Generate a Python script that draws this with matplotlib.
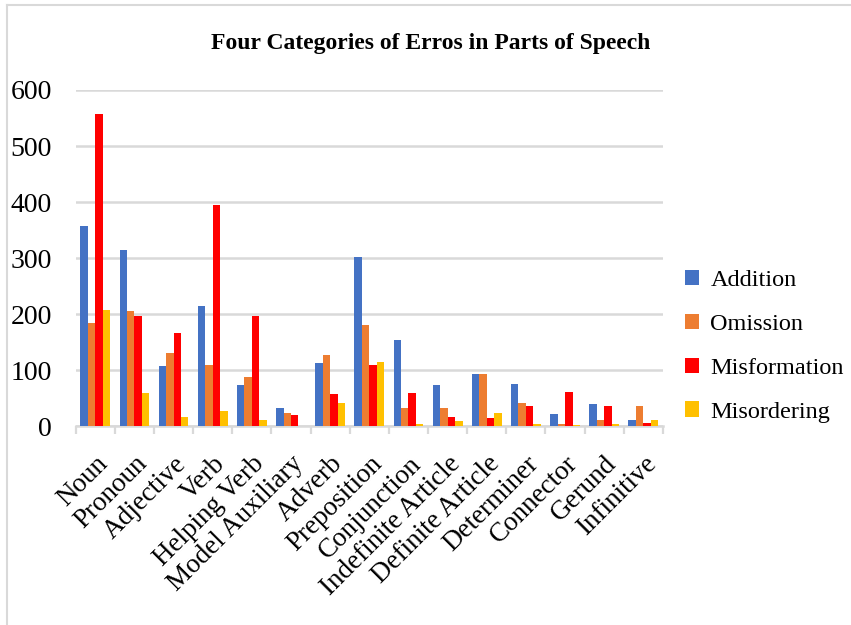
import matplotlib.pyplot as plt
import numpy as np
from matplotlib.lines import Line2D

plt.rcParams["font.family"] = ["Liberation Serif", "DejaVu Serif"]

categories = [
    "Noun", "Pronoun", "Adjective", "Verb", "Helping Verb", "Model Auxiliary",
    "Adverb", "Preposition", "Conjunction", "Indefinite Article",
    "Definite Article", "Determiner", "Connector", "Gerund", "Infinitive",
]
addition = [358, 315, 107, 215, 73, 33, 113, 302, 154, 74, 93, 76, 22, 39, 11]
omission = [185, 205, 130, 109, 88, 24, 128, 180, 32, 32, 93, 41, 4, 11, 37]
misformation = [557, 196, 167, 394, 196, 20, 57, 110, 59, 17, 15, 37, 61, 37, 6]
misordering = [208, 60, 17, 27, 11, 0, 41, 114, 4, 10, 24, 4, 3, 4, 11]

series = [
    ("Addition", addition, "#4472C4"),
    ("Omission", omission, "#ED7D31"),
    ("Misformation", misformation, "#FF0000"),
    ("Misordering", misordering, "#FFC000"),
]


def main():
    fig = plt.figure(figsize=(8.51, 6.25), dpi=100)
    ax = fig.add_axes([0.089, 0.318, 0.69, 0.538])

    x = np.arange(len(categories))
    width = 0.19
    for i, (name, vals, color) in enumerate(series):
        ax.bar(x + (i - 1.5) * width, vals, width, color=color, label=name, zorder=3)

    ax.set_xlim(-0.5, len(categories) - 0.5)
    ax.set_ylim(0, 600)
    ax.set_yticks(range(0, 601, 100))
    ax.yaxis.grid(True, color="#d9d9d9", linewidth=1.8, zorder=0)
    for s in ["top", "right", "left"]:
        ax.spines[s].set_visible(False)
    ax.spines["bottom"].set_color("#d9d9d9")
    ax.spines["bottom"].set_linewidth(1.8)

    ax.tick_params(axis="y", length=0, labelsize=20, pad=17)
    ax.set_xticks(x)
    ax.set_xticklabels(categories, rotation=45, ha="right", rotation_mode="anchor",
                       fontsize=19.5)
    ax.tick_params(axis="x", length=0, pad=18)
    ax.set_xticks(np.arange(-0.5, len(categories), 1), minor=True)
    ax.tick_params(axis="x", which="minor", length=6, width=1.6, color="#d9d9d9")

    fig.text(0.506, 0.931, "Four Categories of Erros in Parts of Speech",
             ha="center", va="center", fontsize=17, fontweight="bold")

    ax.legend(loc="center left", bbox_to_anchor=(1.0, 0.238), frameon=False,
              fontsize=17.5, handlelength=0.6, handleheight=0.6, handletextpad=0.45,
              labelspacing=0.93)

    # light frame, only top and left edges show in the picture
    fig.add_artist(Line2D([0.008, 1.0], [0.992, 0.992], transform=fig.transFigure,
                          color="#d9d9d9", linewidth=1.5))
    fig.add_artist(Line2D([0.008, 0.008], [0.0, 0.992], transform=fig.transFigure,
                          color="#d9d9d9", linewidth=1.5))

    fig.savefig("out.png", dpi=100)


if __name__ == "__main__":
    main()
